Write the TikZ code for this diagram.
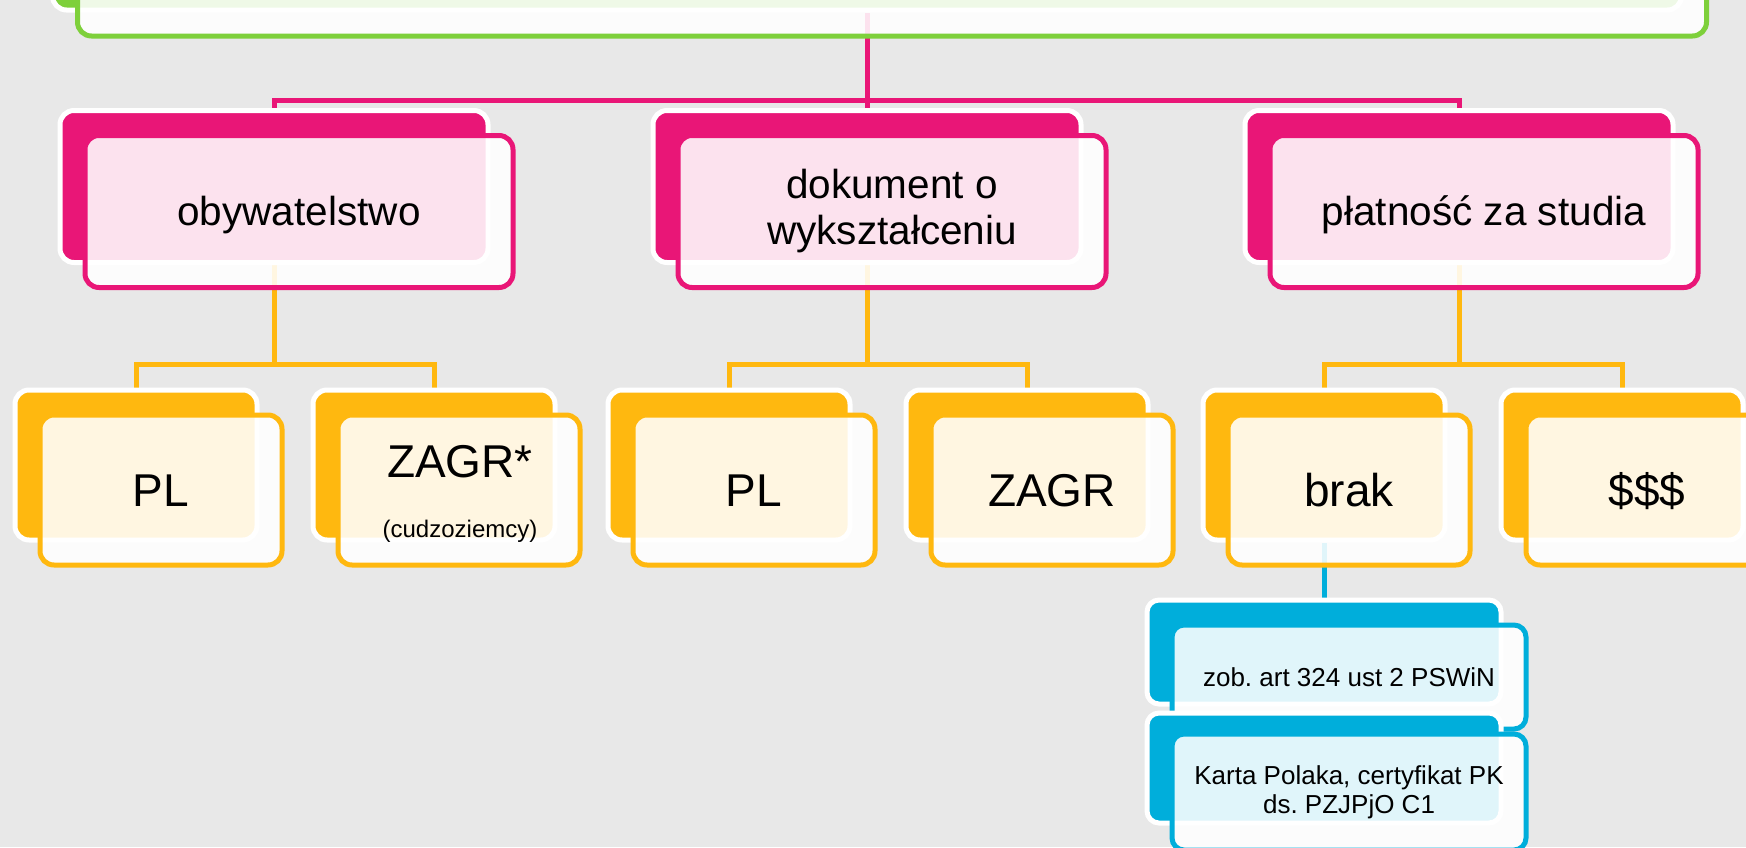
\documentclass[tikz,border=0pt]{standalone}
\usepackage{fontspec}
\setmainfont{Liberation Sans}
\frenchspacing
\usetikzlibrary{calc}
\pgfdeclarelayer{back}
\pgfdeclarelayer{bg}
\pgfsetlayers{back,bg,main}
\definecolor{cpink}{HTML}{E91677}
\definecolor{cyel}{HTML}{FFB80F}
\definecolor{cblue}{HTML}{00AEDB}
\definecolor{cgreen}{HTML}{7ED03B}
\definecolor{cbg}{HTML}{E8E8E8}
\tikzset{
  backbox/.style={draw=white, line width=5pt, rounded corners=14pt, inner sep=0pt},
  frontbox/.style={line width=5pt, rounded corners=14pt, fill=white, fill opacity=0.88,
    text opacity=1, text=black, inner sep=0pt, align=center},
  pinkB/.style={backbox, fill=cpink, minimum width=428pt, minimum height=152pt},
  pinkF/.style={frontbox, draw=cpink, minimum width=428pt, minimum height=152pt,
    font=\fontsize{40.5}{46}\selectfont},
  yelB/.style={backbox, fill=cyel, minimum width=242pt, minimum height=150pt},
  yelF/.style={frontbox, draw=cyel, minimum width=242pt, minimum height=150pt},
  bigtxt/.style={font=\fontsize{46}{54}\selectfont, text height=41pt, text depth=9pt},
  smalltxt/.style={font=\fontsize{24}{29}\selectfont, inner sep=0pt},
  blueB/.style={backbox, rounded corners=12pt, fill=cblue, minimum width=354pt},
  blueF/.style={frontbox, rounded corners=12pt, draw=cblue, minimum width=354pt,
    font=\fontsize{26}{29}\selectfont},
  greenB/.style={backbox, fill=cgreen, minimum width=1629pt, minimum height=160pt},
  greenF/.style={frontbox, draw=cgreen, minimum width=1629pt, minimum height=160pt},
  pline/.style={draw=cpink, line width=5pt},
  yline/.style={draw=cyel, line width=5pt},
  bline/.style={draw=cblue, line width=5pt},
}
\begin{document}
\begin{tikzpicture}[x=1pt,y=-1pt]
\useasboundingbox (0,0) rectangle (1746,847);
\clip (0,0) rectangle (1746,847);
\begin{pgfonlayer}{back}
  \fill[cbg] (0,0) rectangle (1746,847);
\end{pgfonlayer}

% top (green)
\node[greenB] (gb) at (867,-70) {};
\node[greenF] (gf) at (892,-44) {};

% level 2 (pink)
\node[pinkB] (p1b) at (274,186.5) {};
\node[pinkF, text height=36pt, text depth=8pt] (p1f) at (299,211.5) {obywatelstwo};
\node[pinkB] (p2b) at (867,186.5) {};
\node[pinkF] (p2f) at (892,211.5) {dokument o\\wykształceniu};
\node[pinkB] (p3b) at (1459,186.5) {};
\node[pinkF, text height=36pt, text depth=8pt] (p3f) at (1484,211.5) {płatność za studia};

% level 3 (yellow)
\node[yelB] (y1b) at (136,465) {};
\node[yelF, bigtxt] (y1f) at (161,490) {PL};
\node[yelB] (y2b) at (434,465) {};
\node[yelF] (y2f) at (459,490) {};
\node[bigtxt, inner sep=0pt] (y2t) at ($(y2f.center)+(1,-29)$) {ZAGR*};
\node[smalltxt] (y2s) at ($(y2f.center)+(1,41)$) {(cudzoziemcy)};
\node[yelB] (y3b) at (729,465) {};
\node[yelF, bigtxt] (y3f) at (754,490) {PL};
\node[yelB] (y4b) at (1027,465) {};
\node[yelF, bigtxt] (y4f) at (1052,490) {ZAGR};
\node[yelB] (y5b) at (1324,465) {};
\node[yelF, bigtxt] (y5f) at (1349,490) {brak};
\node[yelB] (y6b) at (1622,465) {};
\node[yelF, bigtxt] (y6f) at (1647,490) {\$\$\$};

% level 4 (blue)
\node[blueB, minimum height=104pt] (c1b) at (1324,652) {};
\node[blueF, minimum height=104pt] (c1f) at (1349,677) {zob. art 324 ust 2 PSWiN};
\node[blueB, minimum height=110pt] (c2b) at (1324,768) {};
\node[blueF, minimum height=116pt] (c2f) at (1349,792) {Karta Polaka, certyfikat PK\\ds. PZJPjO C1};

% connectors
\begin{pgfonlayer}{bg}
  \draw[pline] (gb.south) -- (p2b.north);
  \draw[pline] (p1b.north) |- (gb.south |- 0,100) -| (p3b.north);
  \foreach \p/\a/\b in {p1b/y1b/y2b, p2b/y3b/y4b, p3b/y5b/y6b}{
    \draw[yline] (\p.south) -- (\p.south |- 0,364);
    \draw[yline] (\a.north) |- (\p.south |- 0,364) -| (\b.north);
  }
  \draw[bline] (y5b.south) -- (c1b.north);
\end{pgfonlayer}
\end{tikzpicture}
\end{document}
